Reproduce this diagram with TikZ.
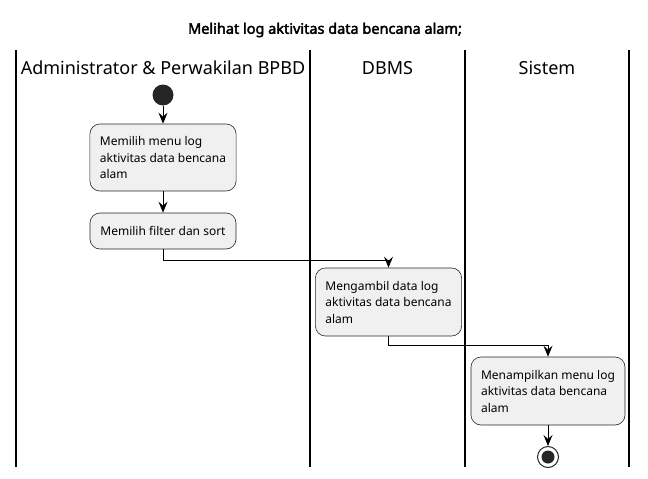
\documentclass[tikz,border=0pt]{standalone}
\usepackage{fontspec}
\setmainfont{Noto Sans}[AutoFakeBold=2.6]
\usetikzlibrary{arrows.meta, positioning}

\begin{document}
\begin{tikzpicture}[x=1pt, y=-1pt,
  act/.style={draw=black!85, line width=0.6pt, fill=black!6, rounded corners=10pt,
    align=left, inner xsep=10pt, inner ysep=0pt, font=\fontsize{12}{16.5}\selectfont},
  lanehead/.style={font=\fontsize{18}{20}\selectfont},
  flow/.style={line width=0.9pt, -{Stealth[length=11pt, width=9pt, inset=4pt]}},
  startdot/.style={circle, fill=black!85, minimum size=21pt, inner sep=0pt},
  enddot/.style={circle, draw=black!85, line width=1pt, fill=white, minimum size=21pt, inner sep=0pt,
    path picture={\fill[black!85] (path picture bounding box.center) circle (6.5pt);}}]
  \useasboundingbox (0,0) rectangle (648,479);
  %
  \node[font=\bfseries\fontsize{14.5}{16}\selectfont] (judul) at (325,30) {Melihat log aktivitas data bencana alam;};
  %
  % swimlanes
  \foreach \x in {16,310,465,629}
    \draw[line width=1.4pt] (\x,50) -- (\x,467);
  \node[lanehead] (admin) at (163,68) {Administrator \& Perwakilan BPBD};
  \node[lanehead] (dbms) at (387.5,68) {DBMS};
  \node[lanehead] (sistem) at (547,68) {Sistem};
  %
  % activities
  \node[startdot] (mulai) at (163,95) {};
  \node[act, minimum width=146pt, minimum height=67pt] (pilih) at (163,157.5) {Memilih menu log\\aktivitas data bencana\\alam};
  \node[act, minimum width=146pt, minimum height=36pt] (filter) at (163,231) {Memilih filter dan sort};
  \node[act, minimum width=145pt, minimum height=68pt] (ambil) at (388.5,302) {Mengambil data log\\aktivitas data bencana\\alam};
  \node[act, minimum width=154pt, minimum height=68pt] (tampil) at (548,391) {Menampilkan menu log\\aktivitas data bencana\\alam};
  \node[enddot] (selesai) at (548,457) {};
  %
  \draw[flow] (mulai) -- (pilih);
  \draw[flow] (pilih) -- (filter);
  \draw[flow] (filter.south) -- ++(0,11) -| (ambil.north);
  \draw[flow] (ambil.south) -- ++(0,9) -| (tampil.north);
  \draw[flow] (tampil) -- (selesai);
\end{tikzpicture}
\end{document}
